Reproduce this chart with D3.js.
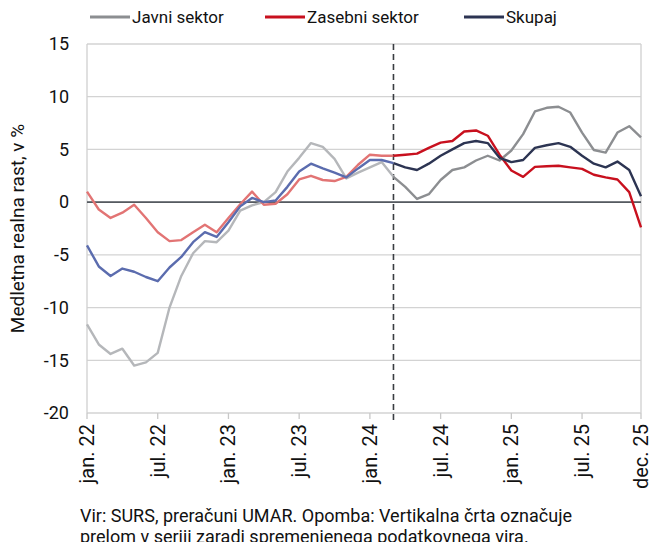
<!DOCTYPE html>
<html>
<head>
<meta charset="utf-8">
<script src="https://cdn.jsdelivr.net/npm/d3@7"></script>
<style>
  body { margin: 0; background: #fff; }
  svg { font-family: "Roboto", "Liberation Sans", sans-serif; }
</style>
</head>
<body>
<svg id="chart" width="649" height="542"></svg>
<script>
// monthly, jan 2022 .. dec 2025
var tickLabels = ["jan. 22", "jul. 22", "jan. 23", "jul. 23", "jan. 24", "jul. 24", "jan. 25", "jul. 25", "dec. 25"];
var tickIndex = [0, 6, 12, 18, 24, 30, 36, 42, 47];
var breakIndex = 26; // new data source from mar. 24

var javni = [-11.6, -13.5, -14.4, -13.9, -15.5, -15.2, -14.3, -10.0, -7.0, -4.85, -3.7, -3.8,
  -2.7, -0.8, -0.3, 0.0, 0.95, 2.9, 4.2, 5.6, 5.25, 4.1, 2.25, 2.8,
  3.3, 3.8, 2.4, 1.45, 0.3, 0.75, 2.1, 3.05, 3.3, 3.95, 4.4, 3.95,
  4.9, 6.45, 8.6, 8.95, 9.05, 8.5, 6.6, 4.95, 4.7, 6.6, 7.2, 6.15];

var zasebni = [1.0, -0.7, -1.5, -1.0, -0.25, -1.5, -2.85, -3.7, -3.6, -2.85, -2.15, -2.85,
  -1.5, -0.2, 1.0, -0.25, -0.15, 0.75, 2.15, 2.5, 2.1, 2.0, 2.4, 3.55,
  4.5, 4.4, 4.4, 4.5, 4.6, 5.15, 5.65, 5.8, 6.7, 6.8, 6.3, 4.5,
  3.0, 2.4, 3.35, 3.4, 3.45, 3.3, 3.15, 2.6, 2.35, 2.15, 0.95, -2.4];

var skupaj = [-4.1, -6.1, -7.0, -6.3, -6.6, -7.1, -7.5, -6.2, -5.2, -3.8, -2.85, -3.3,
  -1.9, -0.4, 0.4, 0.0, 0.15, 1.45, 2.9, 3.65, 3.2, 2.8, 2.35, 3.2,
  4.0, 4.0, 3.7, 3.3, 3.05, 3.65, 4.4, 5.0, 5.6, 5.8, 5.6, 4.2,
  3.8, 4.0, 5.15, 5.4, 5.6, 5.25, 4.4, 3.65, 3.3, 3.85, 3.05, 0.55];

var yTicks = [15, 10, 5, 0, -5, -10, -15, -20];

var series = [
  { name: "Javni sektor", values: javni, color: "#8c8e91", faded: "#b5b7ba" },
  { name: "Zasebni sektor", values: zasebni, color: "#c8101e", faded: "#e27474" },
  { name: "Skupaj", values: skupaj, color: "#2c3452", faded: "#5b6cae" }
];

var svg = d3.select("#chart");
var margin = { left: 87, right: 7, top: 44, bottom: 129 };
var width = 649, height = 542;

var x = d3.scaleLinear()
  .domain([0, 47])
  .range([margin.left, width - margin.right - 1]);

var y = d3.scaleLinear()
  .domain([-20, 15])
  .range([height - margin.bottom, margin.top]);

// grid
svg.append("g")
  .selectAll("line")
  .data(yTicks)
  .join("line")
  .attr("x1", x(0))
  .attr("x2", x(47))
  .attr("y1", d => y(d))
  .attr("y2", d => y(d))
  .attr("stroke", "#d3d3d3")
  .attr("stroke-width", 1.3);

// plot border (left / right)
svg.append("line")
  .attr("x1", x(0)).attr("x2", x(0))
  .attr("y1", y(15)).attr("y2", y(-20))
  .attr("stroke", "#cfcfcf").attr("stroke-width", 1.3);
svg.append("line")
  .attr("x1", x(47)).attr("x2", x(47))
  .attr("y1", y(15)).attr("y2", y(-20))
  .attr("stroke", "#cfcfcf").attr("stroke-width", 1.3);

// x ticks
svg.append("g")
  .selectAll("line")
  .data(tickIndex)
  .join("line")
  .attr("x1", d => x(d))
  .attr("x2", d => x(d))
  .attr("y1", y(-20))
  .attr("y2", y(-20) + 6)
  .attr("stroke", "#c8c8c8")
  .attr("stroke-width", 1.3);

// zero line
svg.append("line")
  .attr("x1", x(0)).attr("x2", x(47))
  .attr("y1", y(0)).attr("y2", y(0))
  .attr("stroke", "#555a60")
  .attr("stroke-width", 1.8);

// break line
svg.append("line")
  .attr("x1", x(breakIndex)).attr("x2", x(breakIndex))
  .attr("y1", y(15)).attr("y2", y(-20) + 7)
  .attr("stroke", "#3a3d42")
  .attr("stroke-width", 1.6)
  .attr("stroke-dasharray", "6,4");

var line = d3.line()
  .x(d => x(d.i))
  .y(d => y(d.v));

series.forEach(s => {
  var pts = s.values.map((v, i) => ({ i: i, v: v }));
  svg.append("path")
    .datum(pts.slice(0, breakIndex + 1))
    .attr("d", line)
    .attr("fill", "none")
    .attr("stroke", s.faded)
    .attr("stroke-width", 2.4)
    .attr("stroke-linejoin", "round");
  svg.append("path")
    .datum(pts.slice(breakIndex))
    .attr("d", line)
    .attr("fill", "none")
    .attr("stroke", s.color)
    .attr("stroke-width", 2.4)
    .attr("stroke-linejoin", "round");
});

// y labels
svg.append("g")
  .selectAll("text")
  .data(yTicks)
  .join("text")
  .attr("x", 69)
  .attr("y", d => y(d))
  .attr("dy", "0.35em")
  .attr("text-anchor", "end")
  .attr("font-size", 18)
  .attr("fill", "#111")
  .text(d => d);

// x labels
svg.append("g")
  .selectAll("text")
  .data(tickIndex)
  .join("text")
  .attr("transform", d => `translate(${x(d)},${y(-20) + 11}) rotate(-90)`)
  .attr("text-anchor", "end")
  .attr("dy", "0.35em")
  .attr("font-size", 20)
  .attr("fill", "#111")
  .text((d, i) => tickLabels[i]);

// y title
svg.append("text")
  .attr("transform", `translate(17,${(y(15) + y(-20)) / 2}) rotate(-90)`)
  .attr("text-anchor", "middle")
  .attr("dy", "0.35em")
  .attr("font-size", 19)
  .attr("fill", "#111")
  .text("Medletna realna rast, v %");

// legend
var legendX = [90, 265, 464];
var legend = svg.append("g")
  .selectAll("g")
  .data(series)
  .join("g")
  .attr("transform", (d, i) => `translate(${legendX[i]},17)`);
legend.append("line")
  .attr("x1", 0).attr("x2", 40)
  .attr("stroke", d => d.color)
  .attr("stroke-width", 3);
legend.append("text")
  .attr("x", 42)
  .attr("dy", "0.35em")
  .attr("font-size", 17)
  .attr("fill", "#111")
  .text(d => d.name);

// note
var note = ["Vir: SURS, preračuni UMAR. Opomba: Vertikalna črta označuje",
  "prelom v seriji zaradi spremenjenega podatkovnega vira."];
svg.append("g")
  .selectAll("text")
  .data(note)
  .join("text")
  .attr("x", 80)
  .attr("y", (d, i) => 522 + i * 21)
  .attr("font-size", 18)
  .attr("fill", "#111")
  .text(d => d);
</script>
</body>
</html>
